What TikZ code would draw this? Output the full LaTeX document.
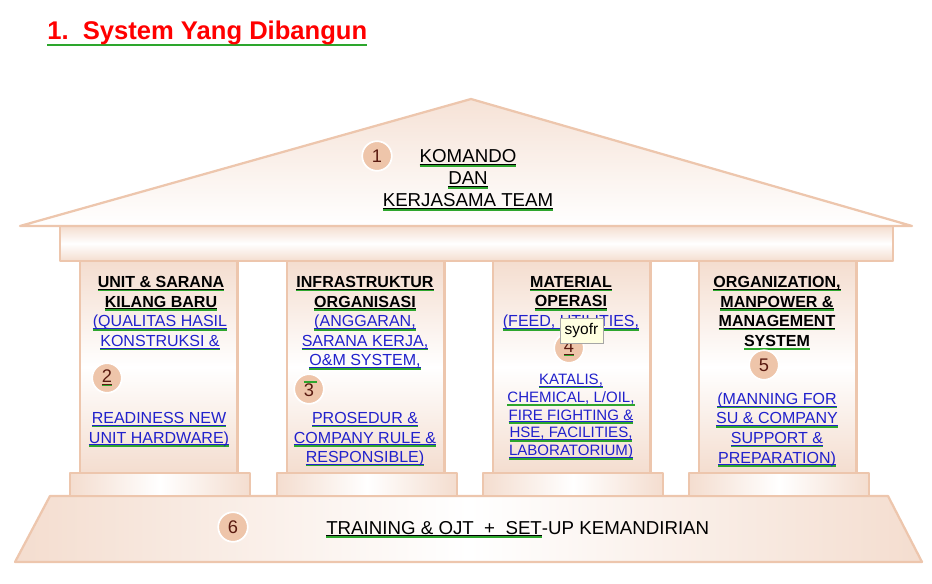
\documentclass[tikz,border=0pt]{standalone}
\usepackage{fontspec}
\setmainfont{Liberation Sans}
\usetikzlibrary{positioning}

\definecolor{edgepeach}{HTML}{EDC6AD}
\definecolor{peach}{HTML}{F4DDCF}
\definecolor{circpeach}{HTML}{EEC5AA}
\definecolor{numred}{HTML}{5A1A10}
\definecolor{linkblue}{HTML}{2121CC}
\definecolor{ulgreen}{HTML}{2DA62D}
\definecolor{tipyellow}{HTML}{FFFFE1}

% underline in text colour plus green line below
\newcommand{\gul}[1]{\setbox0=\hbox{#1}\rlap{\rule[-1.5pt]{\wd0}{0.5pt}}\rlap{\textcolor{ulgreen}{\rule[-2.7pt]{\wd0}{1.1pt}}}\box0}
\newcommand{\gulg}[1]{\setbox0=\hbox{#1}\rlap{\textcolor{ulgreen}{\rule[-4.4pt]{\wd0}{1.2pt}}}\box0}

\begin{document}
\begin{tikzpicture}[x=0.025cm, y=-0.025cm,
    edge/.style={draw=edgepeach, line width=1.6pt, line join=round},
    vshade/.style={edge, top color=peach, bottom color=peach, middle color=white},
    hshade/.style={edge, left color=peach, right color=peach, middle color=white},
    colhead/.style={font={\fontsize{11.4}{13.9}\selectfont\bfseries}, align=center, inner sep=0pt, anchor=north},
    colblue/.style={font={\fontsize{11.4}{13.9}\selectfont}, text=linkblue, align=center, inner sep=0pt, anchor=north},
    colsmall/.style={font={\fontsize{10.7}{12.7}\selectfont}, text=linkblue, align=center, inner sep=0pt, anchor=north},
    bigtext/.style={font={\fontsize{13.3}{15.6}\selectfont}, align=center, inner sep=0pt},
    num/.style={circle, fill=circpeach, draw=white, line width=1.2pt, minimum size=0.74cm, inner sep=0pt, text=numred, font={\fontsize{13}{14}\selectfont}}]

  \useasboundingbox (0,0) rectangle (932,584);

  % title
  \node[anchor=base west, inner sep=0pt, text=red, font={\fontsize{18.2}{22}\selectfont\bfseries}] (title) at (47,40) {\gulg{1.\ \ System Yang Dibangun}};

  % building
  \shadedraw[hshade] (50,496) -- (888,496) -- (922,562) -- (15,562) -- cycle;
  \foreach \x in {80,287,493,699} {
    \shadedraw[hshade] (\x-10,473) rectangle ++(180,23);
    \shadedraw[vshade] (\x,261) rectangle ++(157.5,212);
  }
  \shadedraw[vshade] (60,226) rectangle (893,261);
  \shadedraw[edge, top color=peach!85, bottom color=white] (20,226) -- (471,99) -- (912,226) -- cycle;

  % roof
  \node[num] (n1) at (377,156) {1};
  \node[bigtext, anchor=north] (roof) at (468,149.5) {\gul{KOMANDO}\\\gul{DAN}\\\gul{KERJASAMA TEAM}};

  % column 1
  \node[colhead] (head1) at (161,276) {\gul{UNIT \& SARANA}\\\gul{KILANG BARU}};
  \node[colblue] (blue1) at (160,315) {\gul{(QUALITAS HASIL}\\\gul{KONSTRUKSI \&}};
  \node[num] (n2) at (107,378) {\gul{2}};
  \node[colblue] (foot1) at (159,412) {\gul{READINESS NEW}\\\gul{UNIT HARDWARE)}};

  % column 2
  \node[colhead] (head2) at (365,276) {\gul{INFRASTRUKTUR}\\\gul{ORGANISASI}};
  \node[colblue] (blue2) at (365,315) {\gul{(ANGGARAN,}\\\gul{SARANA KERJA,}\\\gul{O\&M SYSTEM,}};
  \node[num] (n3) at (309,389) {\rlap{\textcolor{ulgreen}{\rule[9.5pt]{9pt}{1.1pt}}}3};
  \node[colblue] (foot2) at (365,412) {\gul{PROSEDUR \&}\\\gul{COMPANY RULE \&}\\\gul{RESPONSIBLE)}};

  % column 3
  \node[colhead] (head3) at (571,276) {\gul{MATERIAL}\\\gul{OPERASI}};
  \node[colblue] (blue3) at (571,315) {\gul{(FEED, UTILITIES,}};
  \node[num] (n4) at (569,348) {\gul{4}};
  \node[colsmall] (foot3) at (571,373.5) {\gul{KATALIS,}\\\gul{CHEMICAL, L/OIL,}\\\gul{FIRE FIGHTING \&}\\\gul{HSE, FACILITIES,}\\\gul{LABORATORIUM)}};
  \node[draw=black!35, fill=tipyellow, minimum width=1.075cm, minimum height=0.625cm, inner sep=0pt, font={\fontsize{11}{13}\selectfont}] (tip) at (581.5,330.5) {syofr};

  % column 4
  \node[colhead] (head4) at (777,276) {\gul{ORGANIZATION,}\\\gul{MANPOWER \&}\\\gul{MANAGEMENT}\\\gul{SYSTEM}};
  \node[num] (n5) at (764,365) {5};
  \node[colblue] (foot4) at (777,392.5) {\gul{(MANNING FOR}\\\gul{SU \& COMPANY}\\\gul{SUPPORT \&}\\\gul{PREPARATION)}};

  % platform
  \node[num] (n6) at (233,527) {6};
  \node[bigtext, anchor=base west] (train) at (326,534) {\gul{TRAINING \& OJT\ \ +\ \ SET}-UP KEMANDIRIAN};

\end{tikzpicture}
\end{document}
